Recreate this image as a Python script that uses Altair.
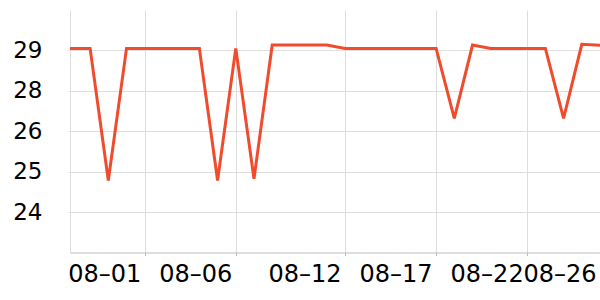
import altair as alt
import pandas as pd

dates = ["2024-07-27", "2024-07-28", "2024-07-29", "2024-07-30", "2024-07-31",
         "2024-08-01", "2024-08-02", "2024-08-03", "2024-08-04", "2024-08-05",
         "2024-08-06", "2024-08-07", "2024-08-08", "2024-08-09", "2024-08-10",
         "2024-08-11", "2024-08-12", "2024-08-13", "2024-08-14", "2024-08-15",
         "2024-08-16", "2024-08-17", "2024-08-18", "2024-08-19", "2024-08-20",
         "2024-08-21", "2024-08-22", "2024-08-23", "2024-08-24", "2024-08-25",
         "2024-08-26"]
values = [28.86, 28.86, 28.86, 24.94, 28.86,
          28.86, 28.86, 28.86, 28.86, 24.94,
          28.86, 24.99, 28.96, 28.96, 28.96,
          28.96, 28.86, 28.86, 28.86, 28.86,
          28.86, 28.86, 26.78, 28.96, 28.86,
          28.86, 28.86, 28.86, 26.78, 28.98,
          28.95]
tick_dates = [(8, 1), (8, 6), (8, 12), (8, 17), (8, 22), (8, 26)]
y_ticks = [28.8, 27.6, 26.4, 25.2, 24.0]
y_domain = [22.8, 30.0]

df = pd.DataFrame({"date": [d + "T00:00:00" for d in dates], "temp": values})

x_values = [alt.DateTime(year=2024, month=m, date=d) for m, d in tick_dates]
x_domain = [alt.DateTime(year=2024, month=7, date=27, hours=21, minutes=30),
            alt.DateTime(year=2024, month=8, date=26)]

chart = alt.Chart(df).mark_line(
    color="#ef4b2c", strokeWidth=3, clip=True
).encode(
    x=alt.X("date:T",
            scale=alt.Scale(domain=x_domain, nice=False),
            axis=alt.Axis(values=x_values, format="%m–%d", formatType="time",
                          title=None, labelAlign="right", labelBaseline="alphabetic",
                          labelPadding=26, labelOffset=-4, tickSize=3,
                          labelOverlap=False, labelBound=False, labelFlush=False,
                          domainColor="#bbbbbb", tickColor="#bbbbbb",
                          gridColor="#dddddd", labelFontSize=24,
                          labelColor="#000000", labelFont="DejaVu Sans")),
    y=alt.Y("temp:Q",
            scale=alt.Scale(domain=y_domain, nice=False, zero=False),
            axis=alt.Axis(values=y_ticks, format=".0f", title=None,
                          tickSize=2, labelPadding=26, domainColor="#dddddd",
                          tickColor="#dddddd", gridColor="#dddddd",
                          labelFontSize=23, labelColor="#000000",
                          labelFont="DejaVu Sans")),
).properties(
    width=530, height=242.5,
    autosize=alt.AutoSizeParams(type="none"),
    padding={"left": 70, "top": 10, "right": 0, "bottom": 40},
).configure_view(stroke=None)

chart.save("out.html", embed_options={"renderer": "svg", "actions": False})
